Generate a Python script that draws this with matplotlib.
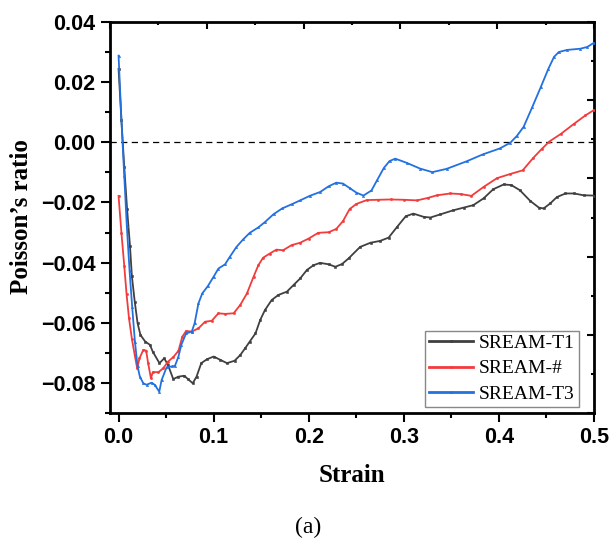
import matplotlib
matplotlib.use("Agg")
import matplotlib.pyplot as plt
from matplotlib.ticker import MultipleLocator

# ---------------- data ----------------
t1_x = [0, 0.003, 0.006, 0.009, 0.012, 0.014, 0.017, 0.020, 0.023, 0.028, 0.033, 0.036,
        0.043, 0.048, 0.052, 0.0575, 0.063, 0.069, 0.073, 0.078, 0.082, 0.087, 0.093, 0.10,
        0.107, 0.114, 0.122, 0.128, 0.133, 0.138, 0.144, 0.149, 0.154, 0.161, 0.168, 0.177,
        0.184, 0.191, 0.198, 0.205, 0.212, 0.221, 0.228, 0.235, 0.242, 0.254, 0.265, 0.275,
        0.284, 0.293, 0.302, 0.310, 0.321, 0.328, 0.338, 0.352, 0.363, 0.373, 0.384, 0.394,
        0.405, 0.413, 0.422, 0.433, 0.442, 0.447, 0.454, 0.461, 0.470, 0.479, 0.489, 0.5]
t1_y = [0.0245, 0.0075, -0.0082, -0.0223, -0.0344, -0.0445, -0.053, -0.0602, -0.0641, -0.0663,
        -0.0674, -0.0697, -0.0735, -0.0719, -0.0741, -0.0788, -0.078, -0.0777, -0.0788, -0.0802,
        -0.078, -0.0735, -0.0722, -0.0713, -0.0724, -0.0735, -0.0727, -0.0708, -0.0686, -0.0663,
        -0.0636, -0.0591, -0.0558, -0.0525, -0.0508, -0.0497, -0.0475, -0.0453, -0.0425, -0.0409,
        -0.0401, -0.0406, -0.0414, -0.0405, -0.0386, -0.0348, -0.0334, -0.0328, -0.0317, -0.0281,
        -0.0246, -0.0237, -0.0248, -0.025, -0.024, -0.0226, -0.0217, -0.0209, -0.0186, -0.0156,
        -0.014, -0.0142, -0.0159, -0.0195, -0.0217, -0.022, -0.0203, -0.0182, -0.017, -0.017,
        -0.0176, -0.0177]

h_x = [0, 0.003, 0.006, 0.0084, 0.011, 0.014, 0.017, 0.0196, 0.022, 0.026, 0.029, 0.031,
       0.034, 0.036, 0.042, 0.047, 0.052, 0.0575, 0.063, 0.067, 0.071, 0.077, 0.084, 0.091,
       0.098, 0.105, 0.112, 0.121, 0.128, 0.135, 0.142, 0.147, 0.152, 0.159, 0.166, 0.173,
       0.182, 0.191, 0.2, 0.21, 0.221, 0.229, 0.236, 0.243, 0.25, 0.261, 0.273, 0.286, 0.3,
       0.314, 0.325, 0.335, 0.349, 0.36, 0.371, 0.384, 0.398, 0.412, 0.425, 0.436, 0.445,
       0.453, 0.465, 0.479, 0.491, 0.5]
h_y = [-0.0178, -0.030, -0.0411, -0.0505, -0.0586, -0.0654, -0.0708, -0.0752, -0.0719, -0.0691,
       -0.0693, -0.0733, -0.0785, -0.0765, -0.0765, -0.0752, -0.073, -0.0715, -0.0694, -0.0647,
       -0.0628, -0.063, -0.0619, -0.0597, -0.0594, -0.0569, -0.0571, -0.0569, -0.0541, -0.0503,
       -0.0447, -0.0409, -0.0384, -0.037, -0.0357, -0.0359, -0.0342, -0.0334, -0.032, -0.0301,
       -0.0299, -0.0288, -0.0262, -0.0222, -0.0205, -0.0192, -0.0191, -0.019, -0.0191, -0.0193,
       -0.0185, -0.0176, -0.017, -0.0172, -0.0178, -0.0148, -0.0119, -0.0105, -0.0093, -0.0052,
       -0.0022, 0.0003, 0.0028, 0.0062, 0.009, 0.0108]

t3_x = [0, 0.003, 0.006, 0.0087, 0.0116, 0.0143, 0.0172, 0.020, 0.0224, 0.026, 0.0295, 0.0347,
        0.038, 0.0428, 0.0453, 0.0505, 0.0558, 0.0593, 0.063, 0.066, 0.071, 0.077, 0.080, 0.084,
        0.088, 0.094, 0.10, 0.105, 0.112, 0.117, 0.124, 0.131, 0.138, 0.147, 0.154, 0.163, 0.172,
        0.182, 0.191, 0.201, 0.212, 0.221, 0.229, 0.236, 0.243, 0.25, 0.2575, 0.266, 0.272,
        0.279, 0.285, 0.291, 0.303, 0.317, 0.330, 0.345, 0.366, 0.383, 0.401, 0.412, 0.419,
        0.426, 0.435, 0.444, 0.452, 0.458, 0.463, 0.4716, 0.4856, 0.493, 0.5]
t3_y = [0.0289, 0.0076, -0.0112, -0.0279, -0.0428, -0.0547, -0.0663, -0.0746, -0.078, -0.0802,
        -0.0807, -0.080, -0.0807, -0.083, -0.0791, -0.0749, -0.0746, -0.0744, -0.0713, -0.0674,
        -0.0636, -0.063, -0.0602, -0.0536, -0.0503, -0.0478, -0.0447, -0.042, -0.0406, -0.0381,
        -0.0348, -0.0323, -0.0301, -0.0283, -0.0265, -0.0239, -0.022, -0.0206, -0.0193, -0.0178,
        -0.0165, -0.0146, -0.0134, -0.0137, -0.0152, -0.0167, -0.0177, -0.016, -0.0125, -0.0085,
        -0.0062, -0.0054, -0.0068, -0.0087, -0.0099, -0.0088, -0.0063, -0.004, -0.002, -0.0001,
        0.0022, 0.0052, 0.0117, 0.0184, 0.0245, 0.0285, 0.0301, 0.0308, 0.0312, 0.0318, 0.0332]

series_labels = ["SREAM-T1", "SREAM-#", "SREAM-T3"]
series_colors = ["#404040", "#f23c3c", "#2271e0"]
series_markers = ["s", "o", "^"]

x_ticks = [0.0, 0.1, 0.2, 0.3, 0.4, 0.5]
y_ticks = [-0.08, -0.06, -0.04, -0.02, 0.00, 0.02, 0.04]

# ---------------- figure ----------------
fig = plt.figure(figsize=(6.10, 5.39), dpi=100)
pos = [110 / 610, 1 - 412.7 / 539, (594 - 110) / 610, (412.7 - 22.3) / 539]
ax = fig.add_axes(pos)

sans = "Liberation Sans"
serif = "Liberation Serif"

for xs, ys, lab, col, mk in zip([t1_x, h_x, t3_x], [t1_y, h_y, t3_y],
                                series_labels, series_colors, series_markers):
    ax.plot(xs, ys, color=col, lw=1.3, marker=mk, ms=1.6, mew=0.4, mec=col, mfc=col,
            label=lab, zorder=3)

ax.axhline(0, color="black", lw=0.9, ls=(0, (5, 3.5)), zorder=2)

ax.set_xlim(-0.009, 0.5)
ax.set_ylim(-0.09, 0.04)
ax.set_xticks(x_ticks)
ax.set_yticks(y_ticks)
ax.set_xticklabels([f"{v:.1f}" for v in x_ticks])
ax.set_yticklabels(["\u2212" + f"{abs(v):.2f}" if v < 0 else f"{v:.2f}" for v in y_ticks])
ax.xaxis.set_minor_locator(MultipleLocator(0.05))
ax.yaxis.set_minor_locator(MultipleLocator(0.01))
ax.tick_params(which="both", direction="out", width=1.5, top=False, right=False)
ax.tick_params(which="major", length=6.5, pad=4)
ax.tick_params(which="minor", length=3.5)
for lbl in ax.get_xticklabels() + ax.get_yticklabels():
    lbl.set_fontfamily(sans)
    lbl.set_fontweight("bold")
    lbl.set_fontsize(15.5)
for sp in ax.spines.values():
    sp.set_linewidth(2.0)

# top / right mirror ticks (independent scale, like the original)
axo = fig.add_axes(pos, frameon=False)
axo.set_xlim(0, 5)
axo.set_ylim(0, 5)
axo.xaxis.tick_top()
axo.yaxis.tick_right()
axo.set_xticks(range(6))
axo.set_yticks(range(6))
axo.xaxis.set_minor_locator(MultipleLocator(0.5))
axo.yaxis.set_minor_locator(MultipleLocator(0.5))
axo.set_xticklabels([])
axo.set_yticklabels([])
axo.tick_params(which="both", direction="in", width=1.5)
axo.tick_params(which="major", length=5)
axo.tick_params(which="minor", length=2.5)
axo.patch.set_visible(False)

leg = ax.legend(loc="lower right", bbox_to_anchor=(0.969, 0.0154), borderaxespad=0,
                prop={"family": serif, "size": 14}, frameon=True, fancybox=False,
                edgecolor="#888888", handlelength=2.3, handletextpad=0.3,
                labelspacing=0.4, borderpad=0.2, framealpha=1)
leg.get_frame().set_linewidth(1.0)
for line in leg.get_lines():
    line.set_linewidth(2.0)
leg.remove()
axo.add_artist(leg)

fig.text(22 / 610, 1 - 217 / 539, "Poisson\u2019s ratio", rotation=90, ha="center",
         va="center", family=serif, weight="bold", size=18)
fig.text(352 / 610, 1 - 475 / 539, "Strain", ha="center", va="center",
         family=serif, weight="bold", size=18)
fig.text(308 / 610, 1 - 527 / 539, "(a)", ha="center", va="center",
         family=serif, size=17)

fig.savefig("out.png", dpi=100)
